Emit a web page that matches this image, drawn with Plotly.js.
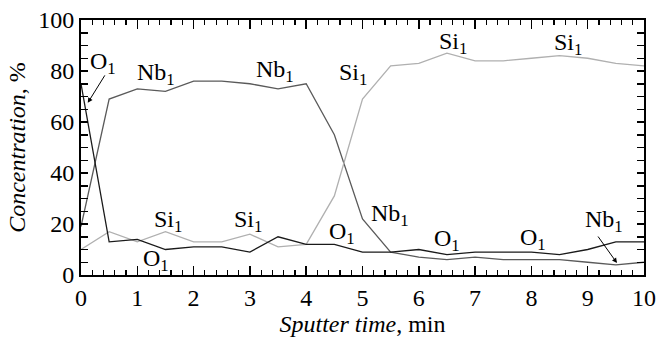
<!DOCTYPE html>
<html>
<head>
<meta charset="utf-8">
<script src="https://cdn.plot.ly/plotly-3.0.1.min.js"></script>
<style>html,body{margin:0;padding:0;background:#fff;}#chart{width:659px;height:345px;}</style>
</head>
<body>
<div id="chart"></div>
<script>
const time = [0,0.5,1,1.5,2,2.5,3,3.5,4,4.5,5,5.5,6,6.5,7,7.5,8,8.5,9,9.5,10];
const nb = [19,69,73,72,76,76,75,73,75,55,22,9,7,6,7,6,6,6,5,4,5];
const si = [10,17,13,17,13,13,16,11,12,31,69,82,83,87,84,84,85,86,85,83,82];
const ox = [75,13,14,10,11,11,9,15,12,12,9,9,10,8,9,9,9,8,10,13,13];

const labels = [
  {t:'O', x:0.39, y:83},
  {t:'Nb', x:1.33, y:79},
  {t:'Nb', x:3.45, y:80},
  {t:'Si', x:4.83, y:79},
  {t:'Si', x:6.61, y:91},
  {t:'Si', x:8.65, y:90.5},
  {t:'Si', x:1.55, y:21},
  {t:'Si', x:2.97, y:21},
  {t:'O', x:1.33, y:6},
  {t:'O', x:4.64, y:16.5},
  {t:'Nb', x:5.49, y:23.5},
  {t:'O', x:6.5, y:13.7},
  {t:'O', x:8.03, y:14},
  {t:'Nb', x:9.29, y:21}
];

const annotations = labels.map(l => ({
  x:l.x, y:l.y, xref:'x', yref:'y', showarrow:false,
  text:l.t + '<sub>1</sub>', font:{family:'Liberation Serif', size:24, color:'#000'}
}));
annotations.push({x:0.12, y:67.5, xref:'x', yref:'y', ax:18, ay:-29, text:'', showarrow:true, arrowhead:2, arrowsize:1, arrowwidth:1, arrowcolor:'#000'});
annotations.push({x:9.52, y:4.7, xref:'x', yref:'y', ax:-20, ay:-28, text:'', showarrow:true, arrowhead:2, arrowsize:1, arrowwidth:1, arrowcolor:'#000'});

const traces = [
  {x:time, y:nb, mode:'lines', line:{color:'#5a5a5a', width:1.3}, name:'Nb'},
  {x:time, y:si, mode:'lines', line:{color:'#b0b0b0', width:1.3}, name:'Si'},
  {x:time, y:ox, mode:'lines', line:{color:'#1a1a1a', width:1.3}, name:'O'}
];

const yvals = []; const ytext = [];
for (let v = 0; v <= 100; v += 5) { yvals.push(v); ytext.push(v % 20 === 0 ? String(v) : ''); }

const layout = {
  width:659, height:345,
  margin:{l:81, r:15, t:20, b:70},
  showlegend:false,
  xaxis:{
    range:[0,10], dtick:1, ticks:'inside', ticklen:9, tickwidth:1.5, tickcolor:'#000',
    minor:{dtick:0.2, ticks:'inside', ticklen:5, tickwidth:1.2, tickcolor:'#000'},
    mirror:'ticks', showline:true, linecolor:'#000', linewidth:2, showgrid:false, zeroline:false,
    tickfont:{family:'Liberation Serif', size:24, color:'#000'},
    title:{text:'<i>Sputter time</i>, min', font:{family:'Liberation Serif', size:24, color:'#000'}, standoff:4}
  },
  yaxis:{
    range:[0,100], tickvals:yvals, ticktext:ytext, ticks:'inside', ticklen:7, tickwidth:1.5, tickcolor:'#000',
    mirror:'ticks', showline:true, linecolor:'#000', linewidth:2, showgrid:false, zeroline:false,
    tickfont:{family:'Liberation Serif', size:24, color:'#000'},
    title:{text:'<i>Concentration</i>, %', font:{family:'Liberation Serif', size:24, color:'#000'}, standoff:6}
  },
  annotations:annotations
};

Plotly.newPlot('chart', traces, layout, {staticPlot:true});
</script>
</body>
</html>
